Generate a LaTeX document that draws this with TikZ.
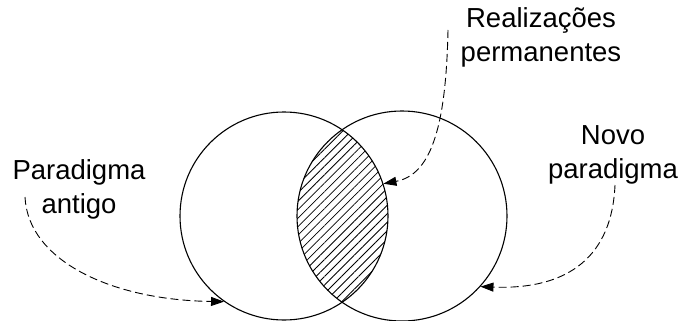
\documentclass[tikz,border=0pt]{standalone}
\usepackage{fontspec}
\setmainfont{Liberation Sans}
\usetikzlibrary{arrows.meta,patterns.meta}
\tikzset{
  venn/.style={circle, draw, line width=1.1pt, inner sep=0pt},
  lbl/.style={align=center, anchor=base, inner sep=0pt, font=\fontsize{27.5}{34}\selectfont},
  pointer/.style={dashed, dash pattern=on 8pt off 4pt, line width=0.9pt,
     -{Triangle[length=13pt,width=9pt]}, shorten >=0pt}
}
\begin{document}
\begin{tikzpicture}[x=1pt,y=-1pt]
\useasboundingbox (0,0) rectangle (683,321);
% hatched intersection
\begin{scope}
  \clip (284,216) circle[radius=104pt];
  \fill[pattern={Lines[angle=45,distance=6pt,line width=0.8pt]}] (402,216) circle[radius=105pt];
\end{scope}
\node[venn, minimum size=208pt] (L) at (284,216) {};
\node[venn, minimum size=210pt] (R) at (402,216) {};
% labels (anchored at the baseline of the last line)
\node[lbl] (old) at (79,213) {Paradigma\\antigo};
\node[lbl] (perm) at (541,62) {Realizações\\permanentes};
\node[lbl] (new) at (613,178) {Novo\\paradigma};
% start points of the pointers
\coordinate (s1) at (25,197);
\coordinate (s2) at (448,30);
\coordinate (s3) at (615,185);
\draw[pointer] (s1) .. controls (28,260) and (110,300) .. (L.235.5);
\draw[pointer] (s2) .. controls (446,130) and (430,175) .. (L.18);
\draw[pointer] (s3) .. controls (612,255) and (570,290) .. (R.-42.3);
\end{tikzpicture}
\end{document}
